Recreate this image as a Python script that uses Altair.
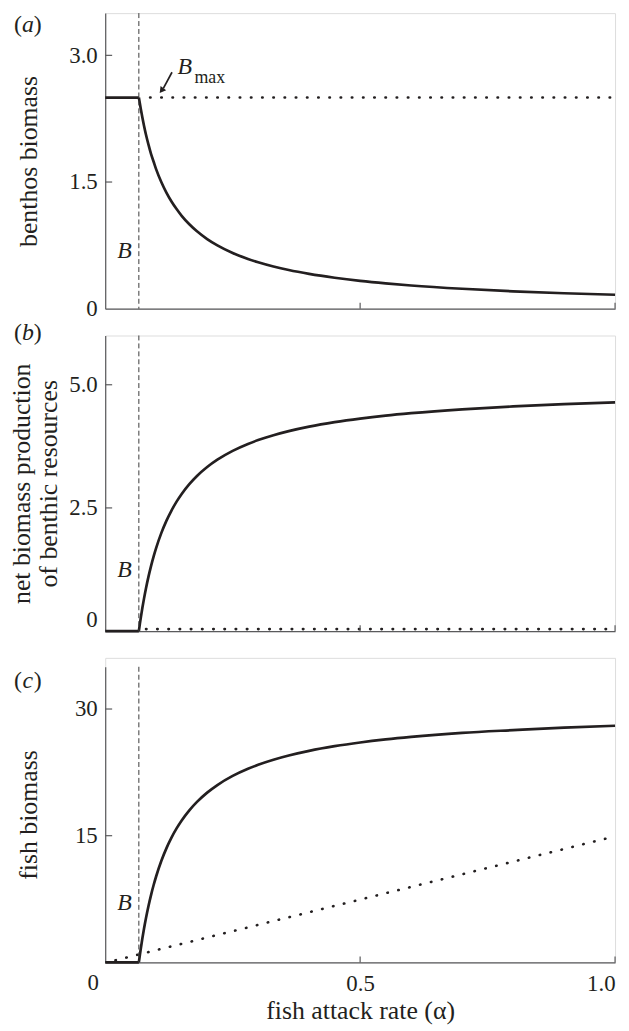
import altair as alt
import pandas as pd

# ---------------- data ----------------
threshold_alpha = [0.066]

alpha_flat = [0.0, 0.066]
benthos_flat = [2.5, 2.5]
production_flat = [0.0, 0.0]
fish_flat = [0.0, 0.0]

alpha_curve = [0.066, 0.068, 0.07, 0.073, 0.076, 0.08, 0.085, 0.09, 0.095, 0.1, 0.11, 0.12,
               0.13, 0.14, 0.15, 0.165, 0.18, 0.2, 0.22, 0.25, 0.28, 0.3, 0.33, 0.36, 0.4,
               0.45, 0.5, 0.55, 0.6, 0.7, 0.8, 0.9, 1.0]
benthos_curve = [2.5, 2.43, 2.36, 2.26, 2.17, 2.06, 1.94, 1.83, 1.74, 1.65, 1.5, 1.375,
                 1.27, 1.18, 1.1, 1.0, 0.917, 0.825, 0.75, 0.66, 0.589, 0.55, 0.5, 0.458, 0.4125,
                 0.367, 0.33, 0.3, 0.275, 0.236, 0.206, 0.183, 0.165]
production_curve = [0.0, 0.146, 0.284, 0.477, 0.654, 0.87, 1.111, 1.325, 1.517, 1.69, 1.988, 2.237,
                    2.447, 2.627, 2.783, 2.982, 3.148, 3.33, 3.479, 3.658, 3.798, 3.877, 3.976, 4.059, 4.15,
                    4.241, 4.314, 4.374, 4.423, 4.501, 4.56, 4.606, 4.642]
fish_curve = [0.0, 0.88, 1.71, 2.88, 3.95, 5.25, 6.71, 8.0, 9.16, 10.2, 12.0, 13.5,
              14.77, 15.86, 16.8, 18.0, 19.0, 20.1, 21.0, 22.08, 22.93, 23.4, 24.0, 24.5, 25.05,
              25.6, 26.04, 26.4, 26.7, 27.17, 27.5, 27.8, 28.02]

bmax_alpha = [0.088, 0.992]
bmax_level = [2.5, 2.5]
prod_zero_alpha = [0.08, 0.995]
prod_zero_level = [0.0, 0.0]
fish_dot_alpha = [0.02, 0.985]
fish_dot_level = [0.25, 14.7]

x_tick_values = [0.5, 1.0]

FONT = "Liberation Serif"
FS = 23      # tick labels
TFS = 26     # axis titles
LFS = 24     # annotations
INK = "#231f20"
AXIS = "#5a5a5c"
W, H = 514, 298


def panel(curve_y, flat_y, dot_x, dot_y, dot_offset, ydom, yvals, ylabel_expr, ytitle,
          title_x, b_pos, letter, letter_y, show_x, y_flush=False, extras=None, top_pad=0):
    HG = H + top_pad
    xs = alt.Scale(domain=[0, 1], nice=False, zero=False)
    ys = alt.Scale(domain=ydom, nice=False, zero=False, range=[HG, top_pad])
    x_axis = alt.Axis(values=x_tick_values, ticks=False, labels=show_x, labelFlush=True,
                      grid=False, domainColor=AXIS, domainWidth=1.2, format=".1f",
                      labelFont=FONT, labelFontSize=FS, labelColor=INK, labelPadding=10,
                      titleFont=FONT, titleFontSize=TFS, titleColor=INK,
                      titleFontWeight="normal", titlePadding=3)
    y_axis = alt.Axis(values=yvals, ticks=False, labelExpr=ylabel_expr, labelFlush=y_flush,
                      grid=False, domainColor=AXIS, domainWidth=1.2,
                      labelFont=FONT, labelFontSize=FS, labelColor=INK, labelPadding=8,
                      titleFont=FONT, titleFontSize=TFS, titleColor=INK,
                      titleFontWeight="normal", titleAngle=270, titleAlign="center",
                      titleBaseline="middle", titleX=title_x, titleY=top_pad + H / 2,
                      titleLineHeight=27)
    xtitle = "fish attack rate (α)" if show_x else None

    def X(f):
        return alt.X(f"{f}:Q", scale=xs, axis=x_axis, title=xtitle)

    def Y(f):
        return alt.Y(f"{f}:Q", scale=ys, axis=y_axis, title=ytitle)

    flat = alt.Chart(pd.DataFrame({"alpha": alpha_flat, "value": flat_y})).mark_line(
        color=INK, strokeWidth=2.7).encode(x=X("alpha"), y=Y("value"))
    curve = alt.Chart(pd.DataFrame({"alpha": alpha_curve, "value": curve_y})).mark_line(
        color=INK, strokeWidth=2.7, interpolate="monotone").encode(x=X("alpha"), y=Y("value"))
    dots = alt.Chart(pd.DataFrame({"alpha": dot_x, "value": dot_y})).mark_line(
        color=INK, strokeWidth=2.6, strokeDash=[0.5, 10.8], strokeCap="round",
        yOffset=dot_offset).encode(x=X("alpha"), y=Y("value"))
    vline = alt.Chart(pd.DataFrame({"alpha": threshold_alpha})).mark_rule(
        color="#3a3a3a", strokeWidth=1, strokeDash=[5, 3]).encode(
        x=X("alpha"), y=alt.value(top_pad), y2=alt.value(HG))
    yt = alt.Chart(pd.DataFrame({"value": [v for v in yvals if v != 0]})).mark_rule(
        color=AXIS, strokeWidth=1.2).encode(y=Y("value"), x=alt.value(0), x2=alt.value(7))
    xt = alt.Chart(pd.DataFrame({"alpha": x_tick_values})).mark_rule(
        color=AXIS, strokeWidth=1.2).encode(x=X("alpha"), y=alt.value(HG), y2=alt.value(HG - 6))
    blab = alt.Chart(pd.DataFrame({"alpha": [b_pos[0]], "value": [b_pos[1]]})).mark_text(
        text="B", font=FONT, fontSize=LFS, fontStyle="italic", color=INK,
        align="center", baseline="alphabetic").encode(x=X("alpha"), y=Y("value"))
    ly = top_pad + letter_y
    lp = alt.Chart(pd.DataFrame({"k": [0]})).mark_text(
        text="(", font=FONT, fontSize=LFS, color=INK, align="left", baseline="middle"
    ).encode(x=alt.value(-92), y=alt.value(ly))
    ll = alt.Chart(pd.DataFrame({"k": [0]})).mark_text(
        text=letter, font=FONT, fontSize=LFS, fontStyle="italic", color=INK,
        align="center", baseline="middle").encode(x=alt.value(-78), y=alt.value(ly))
    rp = alt.Chart(pd.DataFrame({"k": [0]})).mark_text(
        text=")", font=FONT, fontSize=LFS, color=INK, align="left", baseline="middle"
    ).encode(x=alt.value(-72), y=alt.value(ly))
    layers = [flat, curve, dots, vline, yt, xt, blab, lp, ll, rp]
    if extras:
        layers += extras(X, Y, HG)
    return alt.layer(*layers).properties(width=W, height=HG)


def bmax_extras(X, Y, HG):
    shaft = alt.Chart(pd.DataFrame({"alpha": [0.131, 0.114], "value": [2.80, 2.61]})).mark_line(
        color=INK, strokeWidth=1.7).encode(x=X("alpha"), y=Y("value"))
    head = alt.Chart(pd.DataFrame({"alpha": [0.1105], "value": [2.584]})).mark_point(
        shape="triangle-up", filled=True, size=50, angle=217, color=INK, opacity=1
    ).encode(x=X("alpha"), y=Y("value"))
    bt = alt.Chart(pd.DataFrame({"alpha": [0.156], "value": [2.78]})).mark_text(
        text="B", font=FONT, fontSize=LFS, fontStyle="italic", color=INK,
        align="center", baseline="alphabetic").encode(x=X("alpha"), y=Y("value"))
    mt = alt.Chart(pd.DataFrame({"alpha": [0.175], "value": [2.67]})).mark_text(
        text="max", font=FONT, fontSize=18, color=INK,
        align="left", baseline="alphabetic").encode(x=X("alpha"), y=Y("value"))
    return [shaft, head, bt, mt]


def zero_label(X, Y, HG):
    z = alt.Chart(pd.DataFrame({"k": [0]})).mark_text(
        text="0", font=FONT, fontSize=FS, color=INK, align="center", baseline="top"
    ).encode(x=alt.value(-12), y=alt.value(HG + 10))
    return [z]


fmt1 = "datum.value == 0 ? '0' : format(datum.value, '.1f')"

pa = panel(benthos_curve, benthos_flat, bmax_alpha, bmax_level, 0, [0, 3.5], [0, 1.5, 3.0],
           fmt1, "benthos biomass", -77, (0.038, 0.60), "a", 12, False, extras=bmax_extras)
pb = panel(production_curve, production_flat, prod_zero_alpha, prod_zero_level, -2, [0, 6],
           [0, 2.5, 5.0], fmt1, ["net biomass production", "of benthic resources"], -84,
           (0.038, 1.09), "b", -2, False, y_flush=True)
pc = panel(fish_curve, fish_flat, fish_dot_alpha, fish_dot_level, 0, [0, 35], [0, 15, 30],
           "datum.value == 0 ? '' : format(datum.value, 'd')", "fish biomass", -77,
           (0.038, 6.2), "c", 14, True, extras=zero_label, top_pad=9)

chart = alt.vconcat(pa, pb, pc, spacing=27, bounds="flush").properties(
    padding=0).configure_view(stroke=None).configure(font=FONT)

chart.save("out.html", embed_options={"renderer": "svg", "actions": False})
